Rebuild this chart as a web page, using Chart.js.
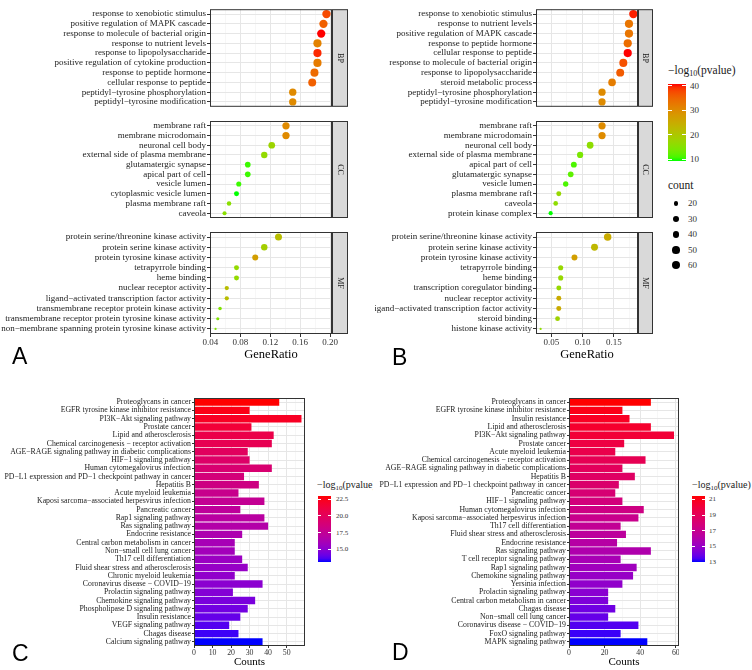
<!DOCTYPE html>
<html>
<head>
<meta charset="utf-8">
<script src="https://cdn.jsdelivr.net/npm/chart.js@4.4.1/dist/chart.umd.min.js"></script>
<style>
body{margin:0;background:#fff}
#fig{position:relative;width:752px;height:670px;overflow:hidden;font-family:"Liberation Serif","Times New Roman",serif;color:#1a1a1a}
#fig canvas{position:absolute}
.lbl{position:absolute;white-space:nowrap;line-height:1;transform:translateY(-50%)}
.tag{position:absolute;font-family:"Liberation Sans",Arial,sans-serif;font-size:23px;line-height:1;color:#000;transform:translateY(-50%)}
.sub{font-size:70%;vertical-align:-0.25em}
</style>
</head>
<body>
<div id="fig"></div>
<script>
// ---- panel A (GO dot plot) ----
const aBPLabels = ["response to xenobiotic stimulus","positive regulation of MAPK cascade","response to molecule of bacterial origin","response to nutrient levels","response to lipopolysaccharide","positive regulation of cytokine production","response to peptide hormone","cellular response to peptide","peptidyl−tyrosine phosphorylation","peptidyl−tyrosine modification"];
const aBPRatio = [0.195,0.191,0.188,0.183,0.183,0.183,0.179,0.176,0.150,0.150];
const aBPCount = [60,59,58,57,57,57,55,54,46,46];
const aBPLogP = [37,35,40,31,39,32,34,35,30,30];

const aCCLabels = ["membrane raft","membrane microdomain","neuronal cell body","external side of plasma membrane","glutamatergic synapse","apical part of cell","vesicle lumen","cytoplasmic vesicle lumen","plasma membrane raft","caveola"];
const aCCRatio = [0.141,0.141,0.122,0.112,0.090,0.090,0.078,0.075,0.065,0.059];
const aCCCount = [45,45,39,36,29,29,25,24,21,19];
const aCCLogP = [30,30,18,17,11,11,11,10,16,16];

const aMFLabels = ["protein serine/threonine kinase activity","protein serine kinase activity","protein tyrosine kinase activity","tetrapyrrole binding","heme binding","nuclear receptor activity","ligand−activated transcription factor activity","transmembrane receptor protein kinase activity","transmembrane receptor protein tyrosine kinase activity","non−membrane spanning protein tyrosine kinase activity"];
const aMFRatio = [0.131,0.112,0.100,0.075,0.075,0.062,0.062,0.053,0.050,0.047];
const aMFCount = [42,36,32,24,24,20,20,17,16,15];
const aMFLogP = [22,19,27,17,17,22,22,15,15,15];

// ---- panel B (GO dot plot) ----
const bBPLabels = ["response to xenobiotic stimulus","response to nutrient levels","positive regulation of MAPK cascade","response to peptide hormone","cellular response to peptide","response to molecule of bacterial origin","response to lipopolysaccharide","steroid metabolic process","peptidyl−tyrosine phosphorylation","peptidyl−tyrosine modification"];
const bBPRatio = [0.181,0.174,0.174,0.172,0.172,0.165,0.160,0.147,0.131,0.131];
const bBPCount = [61,58,58,58,58,55,54,49,44,44];
const bBPLogP = [40,33,33,34,40.7,37,36,32,30,30];

const bCCLabels = ["membrane raft","membrane microdomain","neuronal cell body","external side of plasma membrane","apical part of cell","glutamatergic synapse","vesicle lumen","plasma membrane raft","caveola","protein kinase complex"];
const bCCRatio = [0.131,0.131,0.112,0.096,0.086,0.081,0.073,0.062,0.057,0.049];
const bCCCount = [44,44,38,32,29,27,24,21,19,16];
const bCCLogP = [30,30,16,14,11,12,11,17,16,9.3];

const bMFLabels = ["protein serine/threonine kinase activity","protein serine kinase activity","protein tyrosine kinase activity","tetrapyrrole binding","heme binding","transcription coregulator binding","nuclear receptor activity","ligand−activated transcription factor activity","steroid binding","histone kinase activity"];
const bMFRatio = [0.140,0.119,0.087,0.065,0.065,0.062,0.062,0.062,0.060,0.033];
const bMFCount = [47,40,29,22,22,21,21,21,20,11];
const bMFLogP = [25,23,27,17,17,17,25,25,18,16];

// ---- panel C (KEGG bars) ----
const cLabels = ["Proteoglycans in cancer","EGFR tyrosine kinase inhibitor resistance","PI3K−Akt signaling pathway","Prostate cancer","Lipid and atherosclerosis","Chemical carcinogenesis − receptor activation","AGE−RAGE signaling pathway in diabetic complications","HIF−1 signaling pathway","Human cytomegalovirus infection","PD−L1 expression and PD−1 checkpoint pathway in cancer","Hepatitis B","Acute myeloid leukemia","Kaposi sarcoma−associated herpesvirus infection","Pancreatic cancer","Rap1 signaling pathway","Ras signaling pathway","Endocrine resistance","Central carbon metabolism in cancer","Non−small cell lung cancer","Th17 cell differentiation","Fluid shear stress and atherosclerosis","Chronic myeloid leukemia","Coronavirus disease − COVID−19","Prolactin signaling pathway","Chemokine signaling pathway","Phospholipase D signaling pathway","Insulin resistance","VEGF signaling pathway","Chagas disease","Calcium signaling pathway"];
const cCounts = [46,30,58,31,43,42,29,30,42,27,35,24,38,25,38,40,26,22,22,26,29,22,37,21,33,29,25,19,24,37];
const cLogP = [23.0,22.6,22.2,21.5,20.8,20.4,19.9,19.5,19.1,18.7,18.3,17.9,17.6,17.3,17.0,16.7,16.4,16.1,15.9,15.6,15.4,15.2,15.0,14.8,14.5,14.3,14.0,13.7,13.4,13.08];

// ---- panel D (KEGG bars) ----
const dLabels = ["Proteoglycans in cancer","EGFR tyrosine kinase inhibitor resistance","Insulin resistance","Lipid and atherosclerosis","PI3K−Akt signaling pathway","Prostate cancer","Acute myeloid leukemia","Chemical carcinogenesis − receptor activation","AGE−RAGE signaling pathway in diabetic complications","Hepatitis B","PD−L1 expression and PD−1 checkpoint pathway in cancer","Pancreatic cancer","HIF−1 signaling pathway","Human cytomegalovirus infection","Kaposi sarcoma−associated herpesvirus infection","Th17 cell differentiation","Fluid shear stress and atherosclerosis","Endocrine resistance","Ras signaling pathway","T cell receptor signaling pathway","Rap1 signaling pathway","Chemokine signaling pathway","Yersinia infection","Prolactin signaling pathway","Central carbon metabolism in cancer","Chagas disease","Non−small cell lung cancer","Coronavirus disease − COVID−19","FoxO signaling pathway","MAPK signaling pathway"];
const dCounts = [46,30,34,46,59,31,26,43,30,37,28,26,30,42,39,29,32,27,46,29,38,36,30,22,22,26,22,39,29,44];
const dLogP = [21.43,21.1,20.8,20.5,20.2,19.8,19.5,19.2,18.9,18.6,18.3,18.0,17.7,17.4,17.1,16.8,16.5,16.2,15.9,15.6,15.3,15.0,14.8,14.6,14.3,14.0,13.8,13.5,13.25,13.0];

// tick positions
const aMajorTicks = [0.04,0.08,0.12,0.16,0.20];
const aMinorTicks = [0.06,0.10,0.14,0.18];
const bMajorTicks = [0.05,0.10,0.15];
const bMinorTicks = [0.075,0.125,0.175];
const cMajorTicks = [0,10,20,30,40,50];
const cMinorTicks = [5,15,25,35,45,55];
const dMajorTicks = [0,20,40,60];
const dMinorTicks = [10,30,50];
const bLegendTicks = [10,20,30,40];
const bCountLegend = [20,30,40,50,60];
const cLegendTicks = [15,17.5,20,22.5];
const dLegendTicks = [13,15,17,19,21];

const SERIF = '"Liberation Serif", "Times New Roman", serif';
const fig = document.getElementById('fig');

// ggplot style gradient (interpolated in Lab)
function toLab(hex) {
    const n = parseInt(hex.slice(1), 16);
    const lin = c => { c /= 255; return c <= 0.04045 ? c / 12.92 : Math.pow((c + 0.055) / 1.055, 2.4); };
    const R = lin(n >> 16), G = lin((n >> 8) & 255), B = lin(n & 255);
    const X = (R * 0.4124 + G * 0.3576 + B * 0.1805) / 0.95047;
    const Y = R * 0.2126 + G * 0.7152 + B * 0.0722;
    const Z = (R * 0.0193 + G * 0.1192 + B * 0.9505) / 1.08883;
    const f = t => t > 0.008856 ? Math.cbrt(t) : 7.787 * t + 16 / 116;
    return [116 * f(Y) - 16, 500 * (f(X) - f(Y)), 200 * (f(Y) - f(Z))];
}
function fromLab(L, a, b) {
    const fy = (L + 16) / 116, fx = fy + a / 500, fz = fy - b / 200;
    const inv = t => t * t * t > 0.008856 ? t * t * t : (t - 16 / 116) / 7.787;
    const X = inv(fx) * 0.95047, Y = inv(fy), Z = inv(fz) * 1.08883;
    const r = 3.2406 * X - 1.5372 * Y - 0.4986 * Z;
    const g = -0.9689 * X + 1.8758 * Y + 0.0415 * Z;
    const bl = 0.0557 * X - 0.2040 * Y + 1.0570 * Z;
    const s = c => { c = c <= 0.0031308 ? 12.92 * c : 1.055 * Math.pow(c, 1 / 2.4) - 0.055; return Math.round(Math.max(0, Math.min(1, c)) * 255); };
    return `rgb(${s(r)},${s(g)},${s(bl)})`;
}
function gradient(low, high, lo, hi) {
    const l1 = toLab(low), l2 = toLab(high);
    return v => {
        const t = Math.max(0, Math.min(1, (v - lo) / (hi - lo)));
        return fromLab(l1[0] + (l2[0] - l1[0]) * t, l1[1] + (l2[1] - l1[1]) * t, l1[2] + (l2[2] - l1[2]) * t);
    };
}
function sizeScale(lo, hi) {
    return c => (2.2 + 6.2 * Math.sqrt((c - lo) / (hi - lo))) / 2;
}

function addCanvas(left, top, w, h) {
    const c = document.createElement('canvas');
    c.width = w; c.height = h;
    c.style.left = left + 'px'; c.style.top = top + 'px';
    c.style.width = w + 'px'; c.style.height = h + 'px';
    fig.appendChild(c);
    return c;
}
function addText(html, left, cy, size, extra) {
    const d = document.createElement('div');
    d.className = 'lbl';
    d.style.left = left + 'px'; d.style.top = cy + 'px'; d.style.fontSize = size + 'px';
    if (extra) Object.assign(d.style, extra);
    d.innerHTML = html;
    fig.appendChild(d);
    return d;
}
function addTag(txt, left, cy) {
    const d = document.createElement('div');
    d.className = 'tag';
    d.style.left = left + 'px'; d.style.top = cy + 'px';
    d.textContent = txt;
    fig.appendChild(d);
}

// panel border + facet strip
function frame(label, stripW) {
    return {
        id: 'frame',
        afterDraw(chart) {
            const {ctx, chartArea: a} = chart;
            ctx.save();
            ctx.strokeStyle = '#333';
            ctx.lineWidth = 1;
            if (label) {
                ctx.fillStyle = '#D9D9D9';
                ctx.fillRect(a.right, a.top, stripW, a.bottom - a.top);
                ctx.strokeRect(a.right + 0.5, a.top + 0.5, stripW - 1, a.bottom - a.top - 1);
            }
            ctx.strokeRect(a.left + 0.5, a.top + 0.5, a.right - a.left - 1, a.bottom - a.top - 1);
            if (label) {
                ctx.translate(a.right + stripW / 2, (a.top + a.bottom) / 2);
                ctx.rotate(Math.PI / 2);
                ctx.fillStyle = '#1a1a1a';
                ctx.font = '8px ' + SERIF;
                ctx.textAlign = 'center';
                ctx.textBaseline = 'middle';
                ctx.fillText(label, 0, 0);
            }
            ctx.restore();
        }
    };
}

function xAxis(o) {
    const isMajor = v => o.majors.includes(v);
    return {
        type: 'linear', min: o.min, max: o.max, bounds: 'data',
        afterBuildTicks: s => { s.ticks = o.majors.concat(o.minors).sort((p, q) => p - q).map(v => ({value: v})); },
        afterFit: s => { s.height = o.h; s.paddingLeft = 0; s.paddingRight = 0; },
        border: {display: false},
        grid: {
            color: c => isMajor(c.tick.value) ? '#E6E6E6' : '#F2F2F2',
            lineWidth: c => isMajor(c.tick.value) ? 1 : 0.6,
            drawTicks: o.show, tickLength: o.tick,
            tickColor: c => isMajor(c.tick.value) ? '#333' : 'rgba(0,0,0,0)'
        },
        ticks: {
            display: o.show, autoSkip: false, maxRotation: 0, padding: 0, color: '#333',
            font: {family: SERIF, size: o.font},
            callback: v => isMajor(v) ? (o.digits ? v.toFixed(o.digits) : String(v)) : ''
        },
        title: {display: o.show, text: o.title, color: '#000', font: {family: SERIF, size: o.titleSize}, padding: {top: 0, bottom: o.titlePad}}
    };
}
function yAxis(labels, w, font, tick) {
    return {
        type: 'category', labels: labels, offset: true,
        afterFit: s => { s.width = w; s.paddingTop = 0; s.paddingBottom = 0; },
        border: {display: false},
        grid: {offset: false, color: '#E6E6E6', tickLength: tick, tickColor: '#333'},
        ticks: {autoSkip: false, padding: 1, color: '#222', font: {family: SERIF, size: font}}
    };
}

function dotFacet(o) {
    const cv = addCanvas(o.left, o.top, o.w, o.h);
    new Chart(cv, {
        type: 'scatter',
        data: {
            datasets: [{
                data: o.labels.map((l, i) => ({x: o.ratio[i], y: l})),
                pointRadius: c => o.size(o.count[c.dataIndex]),
                backgroundColor: c => o.color(o.logp[c.dataIndex]),
                borderWidth: 0
            }]
        },
        options: {
            responsive: false, animation: false, events: [],
            layout: {padding: {left: 0, top: 0, bottom: 0, right: o.strip}},
            plugins: {legend: {display: false}, tooltip: {enabled: false}},
            scales: {
                x: xAxis({min: o.min, max: o.max, majors: o.majors, minors: o.minors, show: o.showX, h: o.showX ? 30 : 0,
                          tick: 3, font: 9, digits: 2, title: 'GeneRatio', titleSize: 12.5, titlePad: 2}),
                y: yAxis(o.labels, o.yW, 9, 3)
            }
        },
        plugins: [frame(o.stripLabel, o.strip)]
    });
}

function barPanel(o) {
    const cv = addCanvas(o.left, o.top, o.w, o.h);
    new Chart(cv, {
        type: 'bar',
        data: {
            labels: o.labels,
            datasets: [{data: o.counts, backgroundColor: o.logp.map(o.color), barPercentage: 0.9, categoryPercentage: 1, borderWidth: 0}]
        },
        options: {
            indexAxis: 'y', responsive: false, animation: false, events: [],
            layout: {padding: 0},
            plugins: {legend: {display: false}, tooltip: {enabled: false}},
            scales: {
                x: xAxis({min: 0, max: o.max, majors: o.majors, minors: o.minors, show: true, h: 24,
                          tick: 2, font: 7.8, digits: 0, title: 'Counts', titleSize: 11, titlePad: 1}),
                y: yAxis(o.labels, o.yW, 7.8, 2)
            }
        },
        plugins: [frame(null, 0)]
    });
}

function colorBar(o) {
    const bar = document.createElement('div');
    const stops = [];
    for (let i = 0; i <= 20; i++) {
        const v = o.hi - (o.hi - o.lo) * i / 20;
        stops.push(`${o.color(v)} ${i * 5}%`);
    }
    Object.assign(bar.style, {position: 'absolute', left: o.left + 'px', top: o.top + 'px', width: o.w + 'px', height: o.h + 'px',
        background: `linear-gradient(to bottom, ${stops.join(',')})`});
    fig.appendChild(bar);
    o.ticks.forEach(t => {
        const y = o.top + (o.hi - t) / (o.hi - o.lo) * o.h;
        [0, o.w - o.w / 5].forEach(dx => {
            const m = document.createElement('div');
            Object.assign(m.style, {position: 'absolute', left: (o.left + dx) + 'px', top: (y - 0.5) + 'px', width: (o.w / 5) + 'px', height: '1px', background: '#fff'});
            fig.appendChild(m);
        });
        addText(o.fmt(t), o.labelX, y, o.font, {color: '#333'});
    });
}

// ---- build A ----
const aAllLogP = aBPLogP.concat(aCCLogP, aMFLogP);
const aAllCount = aBPCount.concat(aCCCount, aMFCount);
const aColor = gradient('#00FF00', '#FF0000', Math.min(...aAllLogP), Math.max(...aAllLogP));
const aSize = sizeScale(Math.min(...aAllCount), Math.max(...aAllCount));
const aCommon = {left: 0, w: 348, yW: 210, strip: 16, min: 0.0396, max: 0.2024, majors: aMajorTicks, minors: aMinorTicks, color: aColor, size: aSize};
dotFacet(Object.assign({}, aCommon, {top: 5, h: 106, labels: aBPLabels, ratio: aBPRatio, count: aBPCount, logp: aBPLogP, stripLabel: 'BP', showX: false}));
dotFacet(Object.assign({}, aCommon, {top: 117, h: 105, labels: aCCLabels, ratio: aCCRatio, count: aCCCount, logp: aCCLogP, stripLabel: 'CC', showX: false}));
dotFacet(Object.assign({}, aCommon, {top: 228, h: 136, labels: aMFLabels, ratio: aMFRatio, count: aMFCount, logp: aMFLogP, stripLabel: 'MF', showX: true}));

// ---- build B ----
const bAllLogP = bBPLogP.concat(bCCLogP, bMFLogP);
const bAllCount = bBPCount.concat(bCCCount, bMFCount);
const bLo = Math.min(...bAllLogP), bHi = Math.max(...bAllLogP);
const bColor = gradient('#00FF00', '#FF0000', bLo, bHi);
const bSize = sizeScale(Math.min(...bAllCount), Math.max(...bAllCount));
const bCommon = {left: 375, w: 278, yW: 161, strip: 15, min: 0.0256, max: 0.1884, majors: bMajorTicks, minors: bMinorTicks, color: bColor, size: bSize};
dotFacet(Object.assign({}, bCommon, {top: 5, h: 106, labels: bBPLabels, ratio: bBPRatio, count: bBPCount, logp: bBPLogP, stripLabel: 'BP', showX: false}));
dotFacet(Object.assign({}, bCommon, {top: 117, h: 105, labels: bCCLabels, ratio: bCCRatio, count: bCCCount, logp: bCCLogP, stripLabel: 'CC', showX: false}));
dotFacet(Object.assign({}, bCommon, {top: 228, h: 136, labels: bMFLabels, ratio: bMFRatio, count: bMFCount, logp: bMFLogP, stripLabel: 'MF', showX: true}));

// B legends
addText('−log<span class="sub">10</span>(pvalue)', 668, 72, 11.5);
colorBar({left: 668, top: 84, w: 18, h: 77, lo: bLo, hi: bHi, color: bColor, ticks: bLegendTicks, fmt: String, labelX: 690, font: 9});
addText('count', 668, 186, 11.5);
bCountLegend.forEach((c, i) => {
    const r = bSize(c);
    const y = 203.3 + i * 15.5;
    const dot = document.createElement('div');
    Object.assign(dot.style, {position: 'absolute', left: (676 - r) + 'px', top: (y - r) + 'px', width: 2 * r + 'px', height: 2 * r + 'px', borderRadius: '50%', background: '#000'});
    fig.appendChild(dot);
    addText(String(c), 688, y, 9, {color: '#333'});
});

// ---- build C ----
const cLo = Math.min(...cLogP), cHi = Math.max(...cLogP);
const cColor = gradient('#0000FF', '#FF0000', cLo, cHi);
barPanel({left: 0, top: 398, w: 305, h: 272, yW: 194, labels: cLabels, counts: cCounts, logp: cLogP, color: cColor, max: 59.9, majors: cMajorTicks, minors: cMinorTicks});
addText('−log<span class="sub">10</span>(pvalue)', 317, 486, 10, {width: '56px', overflow: 'hidden'});
colorBar({left: 318, top: 496, w: 13, h: 66, lo: cLo, hi: cHi, color: cColor, ticks: cLegendTicks, fmt: v => v.toFixed(1), labelX: 336, font: 7});

// ---- build D ----
const dLo = Math.min(...dLogP), dHi = Math.max(...dLogP);
const dColor = gradient('#0000FF', '#FF0000', dLo, dHi);
barPanel({left: 375, top: 398, w: 304, h: 272, yW: 194, labels: dLabels, counts: dCounts, logp: dLogP, color: dColor, max: 61.8, majors: dMajorTicks, minors: dMinorTicks});
addText('−log<span class="sub">10</span>(pvalue)', 692, 486, 10);
colorBar({left: 692, top: 496, w: 13, h: 66, lo: dLo, hi: dHi, color: dColor, ticks: dLegendTicks, fmt: String, labelX: 709, font: 7});

// panel tags
addTag('A', 12, 356);
addTag('B', 392, 357);
addTag('C', 12, 653);
addTag('D', 392, 652);
</script>
</body>
</html>
